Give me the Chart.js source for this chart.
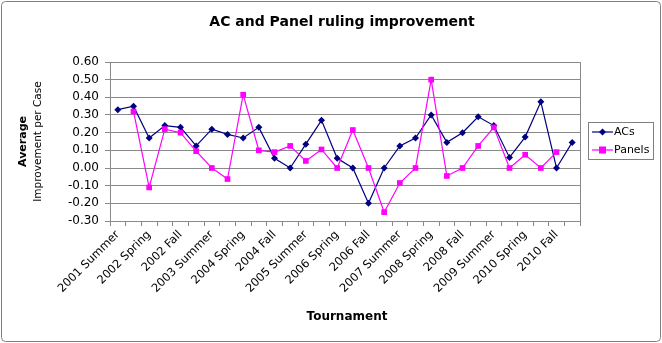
<!DOCTYPE html>
<html>
<head>
<meta charset="utf-8">
<script src="https://cdn.jsdelivr.net/npm/chart.js@4/dist/chart.umd.min.js"></script>
<style>
html,body{margin:0;padding:0;background:#fff;}
canvas{display:block;}
</style>
</head>
<body>
<canvas id="c" width="662" height="343"></canvas>
<script>
const categories = ["2001 Summer","2001 Fall","2002 Spring","2002 Summer","2002 Fall","2003 Spring","2003 Summer","2003 Fall","2004 Spring","2004 Summer","2004 Fall","2005 Spring","2005 Summer","2005 Fall","2006 Spring","2006 Summer","2006 Fall","2007 Spring","2007 Summer","2007 Fall","2008 Spring","2008 Summer","2008 Fall","2009 Spring","2009 Summer","2009 Fall","2010 Spring","2010 Summer","2010 Fall","2011 Spring"];
const acs = [0.33,0.35,0.17,0.24,0.23,0.125,0.22,0.19,0.17,0.23,0.055,0,0.135,0.27,0.055,0,-0.20,0,0.125,0.17,0.30,0.145,0.20,0.29,0.24,0.06,0.175,0.375,0,0.145];
const panels = [null,0.32,-0.11,0.22,0.20,0.095,0,-0.0625,0.415,0.10,0.09,0.125,0.04,0.105,0,0.215,0,-0.25,-0.085,0,0.50,-0.045,0,0.125,0.23,0,0.075,0,0.09,null];
const seriesNames = ["ACs","Panels"];
const titleText = "AC and Panel ruling improvement";
const yTitle1 = "Average";
const yTitle2 = "Improvement per Case";
const xTitle = "Tournament";

const NAVY = "#000080", MAG = "#FF00FF", GRID = "#8a8a8a", FONT = "'DejaVu Sans', Verdana, sans-serif";

const decor = {
  id: 'decor',
  afterDraw(chart) {
    const ctx = chart.ctx, a = chart.chartArea;
    ctx.save();
    // outer border
    ctx.strokeStyle = "#7f7f7f"; ctx.lineWidth = 1;
    ctx.beginPath();
    if (ctx.roundRect) ctx.roundRect(1.5, 1.5, 659, 340, 4); else ctx.rect(1.5,1.5,659,340);
    ctx.stroke();
    // plot right border
    ctx.strokeStyle = GRID;
    ctx.beginPath(); ctx.moveTo(Math.round(a.right)+0.5, a.top); ctx.lineTo(Math.round(a.right)+0.5, a.bottom); ctx.stroke();
    // title
    ctx.fillStyle = "#000"; ctx.textAlign = "center"; ctx.textBaseline = "middle";
    ctx.font = "bold 14px " + FONT;
    ctx.fillText(titleText, 342, 22);
    // x title
    ctx.font = "bold 12px " + FONT;
    ctx.fillText(xTitle, 347, 317);
    // y titles
    const cy = (a.top + a.bottom) / 2;
    ctx.save(); ctx.translate(23, cy); ctx.rotate(-Math.PI/2);
    ctx.font = "bold 11px " + FONT; ctx.fillText(yTitle1, 0, 0); ctx.restore();
    ctx.save(); ctx.translate(38, cy); ctx.rotate(-Math.PI/2);
    ctx.font = "10.5px " + FONT; ctx.fillText(yTitle2, 0, 0); ctx.restore();
    // legend
    ctx.strokeStyle = "#7f7f7f";
    ctx.strokeRect(588.5, 122.5, 65, 37);
    const items = [{name: seriesNames[0], color: NAVY, y: 132, shape: 'd'}, {name: seriesNames[1], color: MAG, y: 150, shape: 's'}];
    items.forEach(it => {
      ctx.strokeStyle = it.color; ctx.lineWidth = 1.2;
      ctx.beginPath(); ctx.moveTo(592, it.y); ctx.lineTo(613, it.y); ctx.stroke();
      ctx.fillStyle = it.color;
      if (it.shape === 'd') {
        ctx.beginPath(); ctx.moveTo(602.5, it.y-3.5); ctx.lineTo(606, it.y); ctx.lineTo(602.5, it.y+3.5); ctx.lineTo(599, it.y); ctx.closePath(); ctx.fill();
      } else {
        ctx.fillRect(599, it.y-3.5, 7, 7);
      }
      ctx.fillStyle = "#000"; ctx.textAlign = "left"; ctx.font = "11px " + FONT;
      ctx.fillText(it.name, 614, it.y + 0.5);
    });
    ctx.restore();
  }
};

new Chart(document.getElementById('c'), {
  type: 'line',
  data: {
    labels: categories,
    datasets: [
      { label: seriesNames[0], data: acs, borderColor: NAVY, backgroundColor: NAVY, borderWidth: 1.2,
        pointStyle: 'rectRot', pointRadius: 3.5, pointHoverRadius: 3.5, pointBorderWidth: 0, tension: 0, order: 1 },
      { label: seriesNames[1], data: panels, borderColor: MAG, backgroundColor: MAG, borderWidth: 1.2,
        pointStyle: 'rect', pointRadius: 4, pointHoverRadius: 4, pointBorderWidth: 0, tension: 0, spanGaps: false, order: 0 }
    ]
  },
  options: {
    responsive: false, animation: false, devicePixelRatio: 1,
    layout: { padding: { left: 60, right: 82, top: 62, bottom: 22 } },
    plugins: { legend: { display: false }, title: { display: false }, tooltip: { enabled: false } },
    scales: {
      x: {
        offset: true,
        grid: { offset: true, drawOnChartArea: false, drawTicks: true, tickLength: 5, color: GRID, tickColor: GRID },
        border: { color: GRID },
        ticks: { autoSkip: false, maxRotation: 45, minRotation: 45, padding: 2, color: "#000",
          font: { family: FONT, size: 11.5 },
          callback: function(v, i) { return i % 2 === 0 ? this.getLabelForValue(v) : ''; } },
        afterFit: s => { s.height = 100; }
      },
      y: {
        min: -0.3, max: 0.6,
        grid: { color: GRID, tickColor: GRID, tickLength: 5 },
        border: { color: GRID },
        ticks: { stepSize: 0.1, padding: 6, color: "#000", font: { family: FONT, size: 12 },
          callback: v => Math.abs(v) < 1e-9 ? "0.00" : Number(v).toFixed(2) },
        afterFit: s => { s.width = 50; }
      }
    }
  },
  plugins: [decor]
});
</script>
</body>
</html>
